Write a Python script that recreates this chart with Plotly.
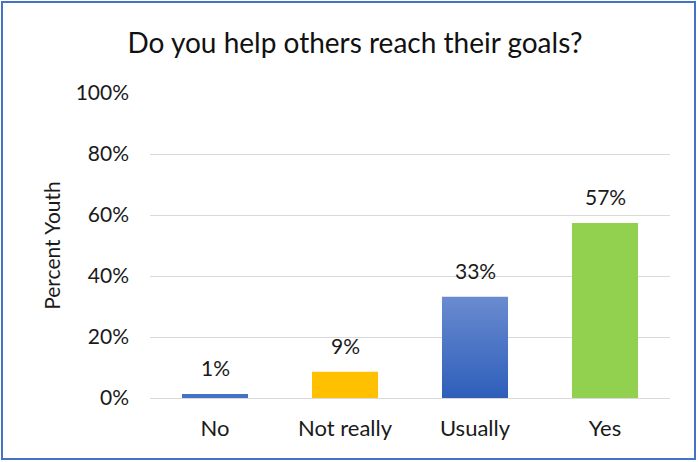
import plotly.graph_objects as go

# Survey responses: share of youth per answer
categories = ["No", "Not really", "Usually", "Yes"]
shares = [0.013, 0.086, 0.332, 0.574]
bar_colors = ["#4472C4", "#FFC000", None, "#92D050"]
y_ticks = [0, 0.2, 0.4, 0.6, 0.8, 1.0]

W, H = 698, 462
L, R, T, B = 150, 28, 93, 64
pw, ph = W - L - R, H - T - B
half = 0.254  # half bar width in category units
FONT = "Lato"
INK = "#1a1a1a"

fig = go.Figure()

xs = list(range(len(categories)))
solid_x = [x for x, c in zip(xs, bar_colors) if c]
solid_y = [v for v, c in zip(shares, bar_colors) if c]
solid_c = [c for c in bar_colors if c]
fig.add_trace(go.Bar(
    x=solid_x, y=solid_y, width=2 * half, marker=dict(color=solid_c, line=dict(width=0)),
    hoverinfo="skip", showlegend=False,
))

# "Usually" bar drawn as a filled polygon so it can carry a vertical gradient
for x, v, c in zip(xs, shares, bar_colors):
    if c is None:
        fig.add_trace(go.Scatter(
            x=[x - half, x + half, x + half, x - half, x - half],
            y=[0, 0, v, v, 0],
            mode="lines", line=dict(width=0), fill="toself",
            fillgradient=dict(type="vertical",
                              colorscale=[[0, "#2E5EBA"], [1, "#6A8BD0"]]),
            hoverinfo="skip", showlegend=False,
        ))

# value labels above each bar
for x, v in zip(xs, shares):
    fig.add_annotation(
        x=x, y=v, text=f"{round(v * 100)}%", showarrow=False,
        yanchor="bottom", yshift=12,
        font=dict(family=FONT, size=21, color=INK),
    )

fig.update_layout(
    width=W, height=H,
    margin=dict(l=L, r=R, t=T, b=B),
    paper_bgcolor="white", plot_bgcolor="white",
    title=dict(text="Do you help others reach their goals?", x=355 / W, xanchor="center",
               y=1 - 43 / H, yanchor="middle",
               font=dict(family=FONT, size=28, color="#111111")),
    xaxis=dict(range=[-0.5, len(categories) - 0.5], tickvals=xs, ticktext=categories,
               showgrid=False, zeroline=False, showline=False, ticks="",
               ticklabelstandoff=15,
               tickfont=dict(family=FONT, size=22, color=INK)),
    yaxis=dict(range=[0, 1.0], tickvals=y_ticks, tickformat=".0%",
               showgrid=True, gridcolor="#D9D9D9", gridwidth=1,
               zeroline=True, zerolinecolor="#D9D9D9", zerolinewidth=1,
               ticks="", ticklabelstandoff=20,
               tickfont=dict(family=FONT, size=21, color=INK),
               title=dict(text="Percent Youth", standoff=9,
                          font=dict(family=FONT, size=21, color=INK))),
    font=dict(family=FONT),
)

# chart frame
fig.add_shape(type="rect", xref="paper", yref="paper",
              x0=(2 - L) / pw, x1=(W - 3 - L) / pw,
              y0=-(H - 3 - T - ph) / ph, y1=1 + (T - 2) / ph,
              line=dict(color="#4472C4", width=2), fillcolor="rgba(0,0,0,0)", layer="above")

fig.write_html("out.html")
